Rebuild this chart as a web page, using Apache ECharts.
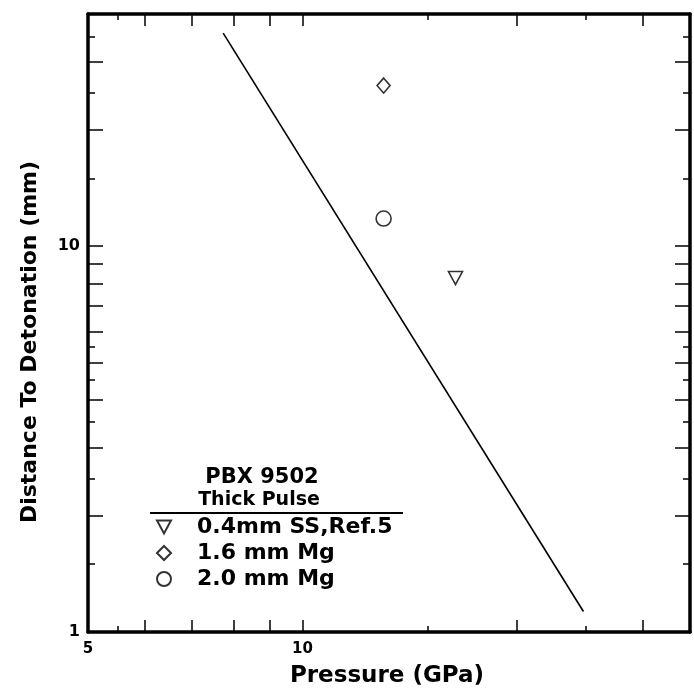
<!DOCTYPE html>
<html><head><meta charset="utf-8">
<script src="https://cdn.jsdelivr.net/npm/echarts@6/dist/echarts.min.js"></script>
<style>html,body{margin:0;padding:0;background:#fff}#c{width:694px;height:691px}</style>
</head><body><div id="c"></div>
<script>
// Data
const fitLine = [[7.74, 35.7], [24.8, 1.13]];
const ssData = [[16.4, 8.27]];      // 0.4mm SS,Ref.5
const mg16Data = [[13.0, 26.1]];    // 1.6 mm Mg
const mg20Data = [[13.0, 11.8]];    // 2.0 mm Mg
const seriesNames = ['0.4mm SS,Ref.5', '1.6 mm Mg', '2.0 mm Mg'];
const xLabels = [5, 10];
const yLabels = [1, 10];
const xLongTicks = [6, 7, 8, 9, 10, 20, 30];
const xShortTicks = [5.5, 15, 25];
const yLongTicks = [2, 3, 4, 5, 6, 7, 8, 9, 10, 20, 30];
const yShortTicks = [1.5, 2.5, 3.5, 4.5, 5.5, 15, 25, 35];

const FONT = 'DejaVu Sans';
const X_MIN = 5, X_MAX = 35, Y_MIN = 1, Y_MAX = 40;

function xAx(pos, ticks, len, showLine, labels) {
  return {
    type: 'log', logBase: 10, min: X_MIN, max: X_MAX, position: pos, gridIndex: 0,
    axisLine: {show: showLine, onZero: false, lineStyle: {color: '#000', width: 3.5}},
    axisTick: {show: true, inside: true, length: len, customValues: ticks, lineStyle: {color: '#000', width: 1.5}},
    minorTick: {show: false}, splitLine: {show: false}, minorSplitLine: {show: false},
    axisLabel: labels ? {show: true, customValues: labels, color: '#000', fontFamily: FONT, fontWeight: 'bold', fontSize: 15, margin: 10} : {show: false}
  };
}
function yAx(pos, ticks, len, showLine, labels) {
  return {
    type: 'log', logBase: 10, min: Y_MIN, max: Y_MAX, position: pos, gridIndex: 0,
    axisLine: {show: showLine, onZero: false, lineStyle: {color: '#000', width: 3.5}},
    axisTick: {show: true, inside: true, length: len, customValues: ticks, lineStyle: {color: '#000', width: 1.5}},
    minorTick: {show: false}, splitLine: {show: false}, minorSplitLine: {show: false},
    axisLabel: labels ? {show: true, customValues: labels, color: '#000', fontFamily: FONT, fontWeight: 'bold', fontSize: 16, margin: 8} : {show: false}
  };
}

const downTri = 'path://M0,0 L12,0 L6,11 Z';
const chart = echarts.init(document.getElementById('c'), null, {renderer: 'canvas'});
chart.setOption({
  animation: false,
  backgroundColor: '#fff',
  grid: {left: 88, right: 4, top: 14, bottom: 59, containLabel: false},
  xAxis: [
    xAx('bottom', xLongTicks, 12, true, xLabels),
    xAx('bottom', xShortTicks, 6, false, null),
    xAx('top', xLongTicks, 12, true, null),
    xAx('top', xShortTicks, 6, false, null)
  ],
  yAxis: [
    yAx('left', yLongTicks, 15, true, yLabels),
    yAx('left', yShortTicks, 7, false, null),
    yAx('right', yLongTicks, 15, true, null),
    yAx('right', yShortTicks, 7, false, null)
  ],
  legend: {
    show: true, orient: 'vertical', left: 156, top: 516, itemGap: 4, padding: 0,
    itemWidth: 14, itemHeight: 14,
    data: seriesNames,
    textStyle: {color: '#000', fontFamily: FONT, fontWeight: 'bold', fontSize: 22, lineHeight: 21, padding: [0, 0, 0, 21]},
    selectedMode: false
  },
  graphic: [
    {type: 'text', x: 262, y: 478, style: {text: 'PBX 9502', fill: '#000', font: 'bold 21px "DejaVu Sans"', align: 'center', verticalAlign: 'middle'}},
    {type: 'text', x: 259, y: 500, style: {text: 'Thick Pulse', fill: '#000', font: 'bold 19px "DejaVu Sans"', align: 'center', verticalAlign: 'middle'}},
    {type: 'line', shape: {x1: 150, y1: 513, x2: 403, y2: 513}, style: {stroke: '#000', lineWidth: 2}},
    {type: 'text', x: 387, y: 676, style: {text: 'Pressure (GPa)', fill: '#000', font: 'bold 23px "DejaVu Sans"', align: 'center', verticalAlign: 'middle'}},
    {type: 'text', x: 30, y: 342, rotation: Math.PI / 2, style: {text: 'Distance To Detonation (mm)', fill: '#000', font: 'bold 22px "DejaVu Sans"', align: 'center', verticalAlign: 'middle'}}
  ],
  series: [
    {type: 'line', data: fitLine, xAxisIndex: 0, yAxisIndex: 0, showSymbol: false, symbol: 'none',
     lineStyle: {color: '#000', width: 1.6}, silent: true},
    {name: seriesNames[0], type: 'scatter', data: ssData, xAxisIndex: 0, yAxisIndex: 0, symbol: downTri, symbolSize: [14, 13],
     itemStyle: {color: '#fff', borderColor: '#000', borderWidth: 1.6}},
    {name: seriesNames[1], type: 'scatter', data: mg16Data, xAxisIndex: 0, yAxisIndex: 0, symbol: 'diamond', symbolSize: [13, 15],
     itemStyle: {color: '#fff', borderColor: '#000', borderWidth: 1.6}},
    {name: seriesNames[2], type: 'scatter', data: mg20Data, xAxisIndex: 0, yAxisIndex: 0, symbol: 'circle', symbolSize: 15,
     itemStyle: {color: '#fff', borderColor: '#000', borderWidth: 1.6}}
  ]
});
</script></body></html>
